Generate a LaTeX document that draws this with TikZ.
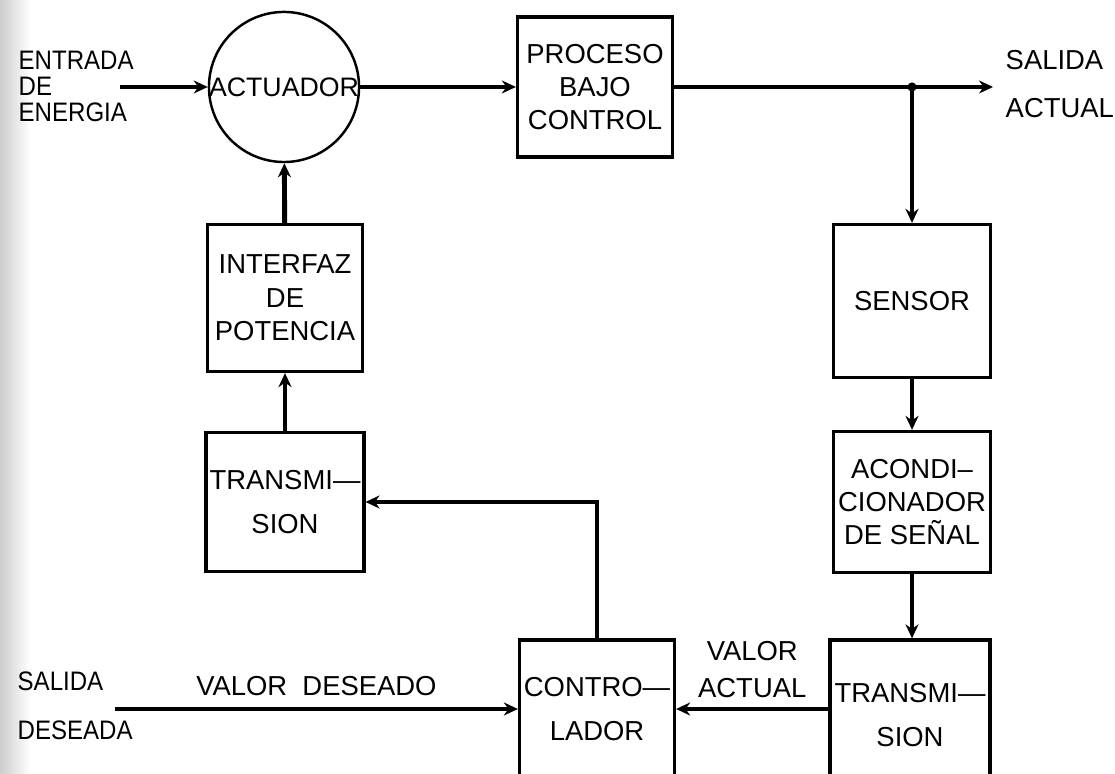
\documentclass[tikz,border=0pt]{standalone}
\usepackage{fontspec}
\setmainfont{Liberation Sans}
\newfontfamily\narrowsans[FakeStretch=0.9]{Liberation Sans}
\usetikzlibrary{arrows.meta, positioning}

\begin{document}
\begin{tikzpicture}[
    x=0.01cm, y=-0.01cm,
    block/.style={rectangle, draw, line width=0.9pt, minimum width=1.55cm, align=center, font=\fontsize{7.8}{9.5}\selectfont, inner sep=1pt},
    txt/.style={align=left, font=\fontsize{7.8}{9.5}\selectfont, inner sep=0pt},
    side/.style={txt, font=\narrowsans\fontsize{7.6}{7.4}\selectfont},
    arrow/.style={-{Stealth[length=1.4mm, width=1.3mm]}, line width=1.4pt}
  ]
    \clip (0,0) rectangle (1115,774);
    \shade[left color=black!20, right color=white] (0,0) rectangle (30,774);

    % Top row
    \node[circle, draw, line width=0.7pt, minimum size=1.5cm, inner sep=0pt,
      label={[font=\fontsize{7.6}{9}\selectfont]center:ACTUADOR}] (act) at (284,87) {};
    \node[block, minimum height=1.4cm] (proc) at (595,87) {PROCESO\\BAJO\\CONTROL};

    % Left column
    \node[block, minimum height=1.47cm] (intf) at (285,298) {INTERFAZ\\DE\\POTENCIA};
    \node[block, minimum height=1.39cm] (trans1) at (285,502) {TRANSMI---\\[3pt]SION};

    % Right column
    \node[block, minimum width=1.57cm, minimum height=1.53cm] (sens) at (912,301) {SENSOR};
    \node[block, minimum width=1.57cm, minimum height=1.41cm] (acond) at (912,502)
      {ACONDI--\\CIONADOR\\DE SEÑAL};
    \node[block, minimum width=1.6cm, minimum height=1.5cm] (trans2) at (910,715)
      {TRANSMI---\\[3pt]SION};

    % Controller
    \node[block, minimum height=1.38cm] (ctrl) at (597,709) {CONTRO---\\[3pt]LADOR};

    % Outer labels
    \node[side, anchor=west] (ent) at (18,86) {ENTRADA\\DE\\ENERGIA};
    \node[txt, anchor=west] (salact) at (1005,84) {SALIDA\\[4pt]ACTUAL};
    \node[side, anchor=west] (saldes) at (17,706) {SALIDA\\[6.5pt]DESEADA};
    \coordinate (ein) at (120,87);
    \coordinate (sout) at (993,87);
    \coordinate (jn) at (912,87);
    \coordinate (din) at (115,709);

    % Arrows
    \draw[arrow] (ein) -- (act.west);
    \draw[arrow] (act.east) -- (proc.west);
    \draw[arrow] (proc.east) -- (sout);
    \fill (jn) circle (1.3pt);
    \draw[arrow] (jn) -- (sens.north);
    \draw[arrow] (sens) -- (acond);
    \draw[arrow] (acond.south) -- (acond.south |- trans2.north);
    \draw[arrow] (trans2.west |- ctrl.east) -- node[above, txt, align=center, yshift=2.5pt]
      {VALOR\\[1pt]ACTUAL} (ctrl.east);
    \draw[arrow] (din) -- node[above, txt, yshift=3pt] {VALOR\ \ DESEADO} (din -| ctrl.west);
    \draw[arrow] (ctrl.north) |- (trans1.east);
    \draw[arrow] (trans1) -- (intf);
    \draw[arrow] (intf) -- (act);
  \end{tikzpicture}
\end{document}
